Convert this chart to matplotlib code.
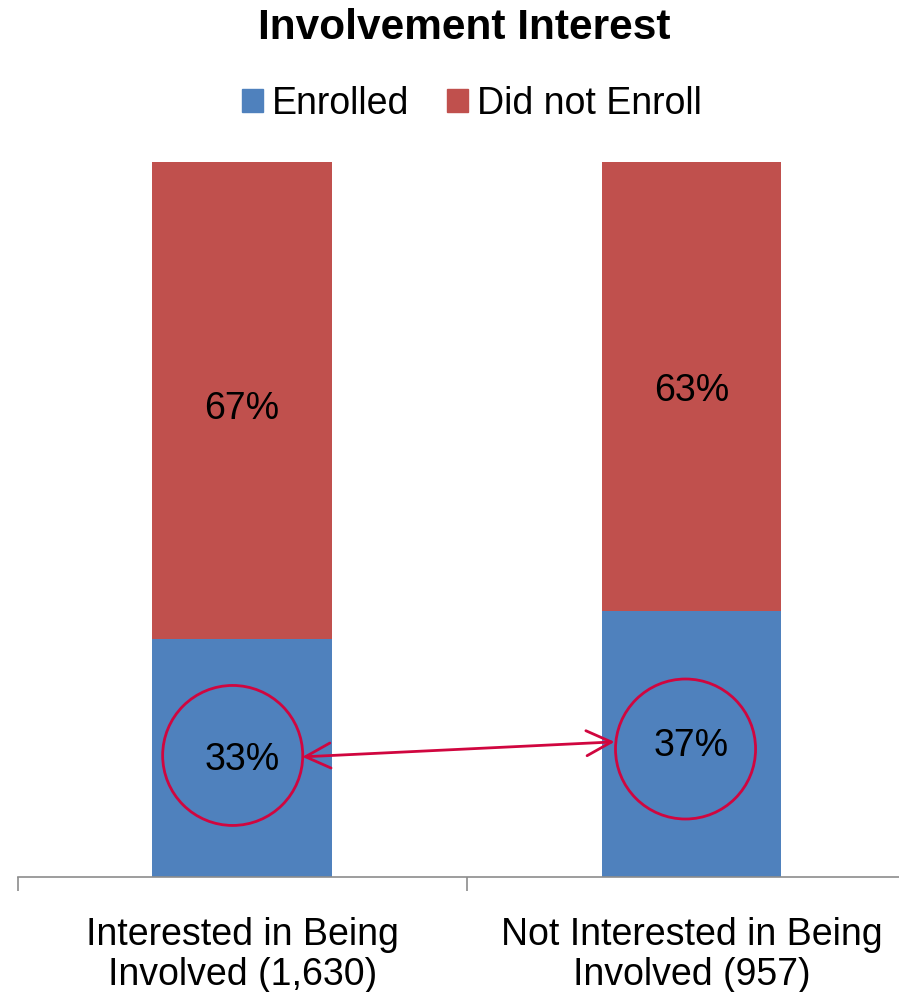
import matplotlib
matplotlib.use("Agg")
from matplotlib import pyplot as plt
from matplotlib.patches import Patch, Ellipse
import numpy as np

categories = ["Interested in Being\nInvolved (1,630)", "Not Interested in Being\nInvolved (957)"]
enrolled = [0.333, 0.372]
not_enrolled = [0.667, 0.628]
enrolled_labels = ["33%", "37%"]
not_enrolled_labels = ["67%", "63%"]

blue = "#4F81BD"
red = "#C0504D"
mark = "#D0063F"

plt.rcParams['font.family'] = ['Liberation Sans', 'DejaVu Sans']

W, H = 899, 992
fig = plt.figure(figsize=(W / 100, H / 100), dpi=100)
# axes: x from -0.5..1.5 maps to px 17.5..916, y 0..1 maps to px 877..162
ax = fig.add_axes([17.5 / W, 1 - 877 / H, (916 - 17.5) / W, (877 - 162) / H])

x = np.arange(len(categories))
ax.bar(x, enrolled, width=0.4, color=blue)
ax.bar(x, not_enrolled, width=0.4, bottom=enrolled, color=red)

ax.set_xlim(-0.5, 1.5)
ax.set_ylim(0, 1)
for s in ['top', 'right', 'left']:
    ax.spines[s].set_visible(False)
ax.spines['bottom'].set_color('#8c8c8c')
ax.spines['bottom'].set_linewidth(1.2)
ax.set_yticks([])
ax.set_xticks(x)
ax.set_xticklabels(categories, fontsize=27, linespacing=1.12)
ax.tick_params(axis='x', which='major', length=0, pad=29)
ax.set_xticks([-0.5, 0.5, 1.5], minor=True)
ax.tick_params(axis='x', which='minor', length=10, width=1.2, color='#8c8c8c')

# data labels
ax.text(0, 0.655, not_enrolled_labels[0], ha='center', va='center', fontsize=27)
ax.text(1, 0.68, not_enrolled_labels[1], ha='center', va='center', fontsize=27)
ax.text(0, 0.164, enrolled_labels[0], ha='center', va='center', fontsize=27)
ax.text(1, 0.183, enrolled_labels[1], ha='center', va='center', fontsize=27)

# highlight circles and arrow
rx, ry = 140 / 449, 140 / 715
ax.add_patch(Ellipse((-0.021, 0.17), rx, ry, fill=False, edgecolor=mark, lw=2))
ax.add_patch(Ellipse((0.987, 0.179), rx, ry, fill=False, edgecolor=mark, lw=2))
ax.annotate("", xy=(0.829, 0.189), xytext=(0.134, 0.168),
            arrowprops=dict(arrowstyle='<->, head_length=0.5, head_width=0.25',
                            color=mark, lw=2, mutation_scale=36,
                            shrinkA=0, shrinkB=0))

fig.text(464 / W, 1 - 28 / H, "Involvement Interest", ha='center', va='center',
         fontsize=30.5, fontweight='bold')

handles = [Patch(color=blue, label="Enrolled"), Patch(color=red, label="Did not Enroll")]
fig.legend(handles=handles, loc='center', bbox_to_anchor=(472 / W, 1 - 104 / H),
           ncol=2, frameon=False, fontsize=27, handlelength=0.55, handleheight=0.55,
           handletextpad=0.25, columnspacing=1.0, borderpad=0, borderaxespad=0)

fig.savefig("out.png", dpi=100)
